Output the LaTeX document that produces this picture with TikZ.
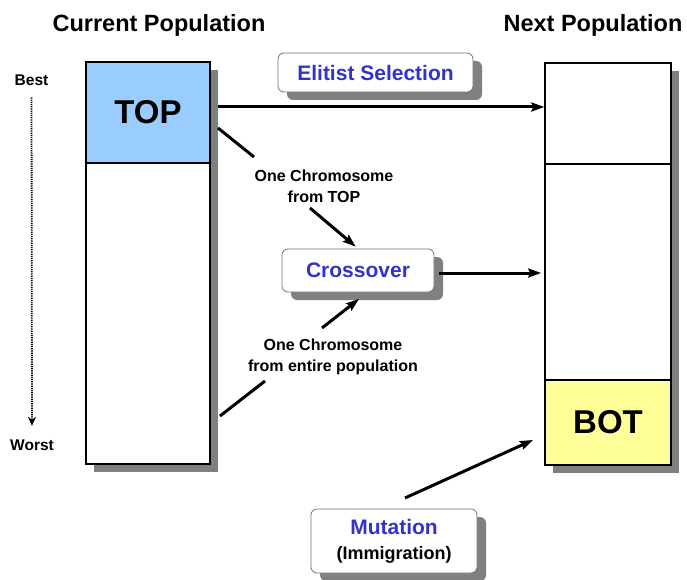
\documentclass[tikz,border=0pt]{standalone}
\usepackage{fontspec}
\setmainfont{Liberation Sans}
\usetikzlibrary{arrows.meta,shadows}
\definecolor{topblue}{HTML}{99CCFF}
\definecolor{botyellow}{HTML}{FFFF99}
\definecolor{opblue}{HTML}{3333CC}

\begin{document}
\begin{tikzpicture}
	[x=1pt,y=-1pt,every node/.style={inner sep=0pt,font=\bfseries}]
	\tikzstyle{column} = [draw,line width=1.6pt,fill=white,minimum height=402pt,drop shadow={shadow xshift=8pt,shadow yshift=-8pt,fill=black!50,opacity=1}];
	\tikzstyle{part} = [draw,line width=1.4pt,font=\bfseries\fontsize{33}{36}\selectfont];
	\tikzstyle{opbox} = [draw=black!55,line width=0.8pt,rounded corners=6pt,fill=white,text=opblue,font=\bfseries\fontsize{21}{24}\selectfont,drop shadow={shadow xshift=9pt,shadow yshift=-8pt,fill=black!50,opacity=1}];
	\tikzstyle{title} = [anchor=base,font=\bfseries\fontsize{23.5}{28}\selectfont];
	\tikzstyle{note} = [align=center,font=\bfseries\fontsize{16}{21}\selectfont];
	\tikzstyle{rank} = [anchor=base,font=\bfseries\fontsize{15.5}{18}\selectfont];
	\tikzstyle{edges} = [line width=3pt];
	\tikzstyle{flow} = [edges,-{Stealth[length=13pt,width=9pt,inset=2pt]}];
	
	\useasboundingbox (0,0) rectangle (687,580);
	
	% populations
	\node[title] (curtitle) at (159,32) {Current Population};
	\node[title] (nexttitle) at (593,32) {Next Population};
	\node[column,minimum width=124pt] (cur) at (148,263) {};
	\node[part,fill=topblue,minimum width=124pt,minimum height=101pt] (top) at (148,112.5) {TOP};
	\node[column,minimum width=126pt] (next) at (608,264) {};
	\node[part,minimum width=126pt,minimum height=101pt] (elite) at (608,113.5) {};
	\node[part,fill=botyellow,minimum width=126pt,minimum height=85pt] (bot) at (608,422.5) {BOT};
	
	% ranking
	\node[rank] (best) at (31.5,86) {Best};
	\node[rank] (worst) at (32,450.7) {Worst};
	\draw[line width=1.8pt,dash pattern=on 1.2pt off 1pt,-{Stealth[length=9pt,width=8pt]},shorten <=11pt,shorten >=14pt] (best) -- (worst);
	
	% operators
	\node[opbox,minimum width=195pt,minimum height=39pt] (elit) at (375.5,72.5) {Elitist Selection};
	\node[opbox,minimum width=152pt,minimum height=43pt] (cross) at (358,270.5) {Crossover};
	\node[opbox,minimum width=166pt,minimum height=64pt,align=center] (mut) at (394,541)
		{Mutation\\[1pt]{\color{black}\fontsize{18}{21}\selectfont(Immigration)}};
	
	\node[note] (fromtop) at (324,186.7) {One Chromosome\\from TOP};
	\node[note] (fromall) at (333,357) {One Chromosome\\from entire population};
	
	\coordinate (t1) at (218,128);
	\coordinate (t2) at (254,157);
	\coordinate (t3) at (310,208);
	\coordinate (a1) at (220,416);
	\coordinate (a2) at (265,381);
	\coordinate (a3) at (322,328);
	\coordinate (a4) at (359,299);
	\coordinate (m1) at (405,498);
	\coordinate (m2) at (533,440);
	
	\draw[flow] ([xshift=7pt,yshift=5.5pt]top.east) -- ([yshift=6.5pt]elite.west);
	\draw[edges] (t1) -- (t2);
	\draw[flow,shorten >=3pt] (t3) -- (cross.north);
	\draw[edges] (a1) -- (a2);
	\draw[flow] (a3) -- (a4);
	\draw[flow,shorten >=3pt] ([xshift=5pt,yshift=-2.5pt]cross.east) -- ([yshift=-2.5pt]cross.east -| next.west);
	\draw[flow] (m1) -- (m2);
\end{tikzpicture}
\end{document}
